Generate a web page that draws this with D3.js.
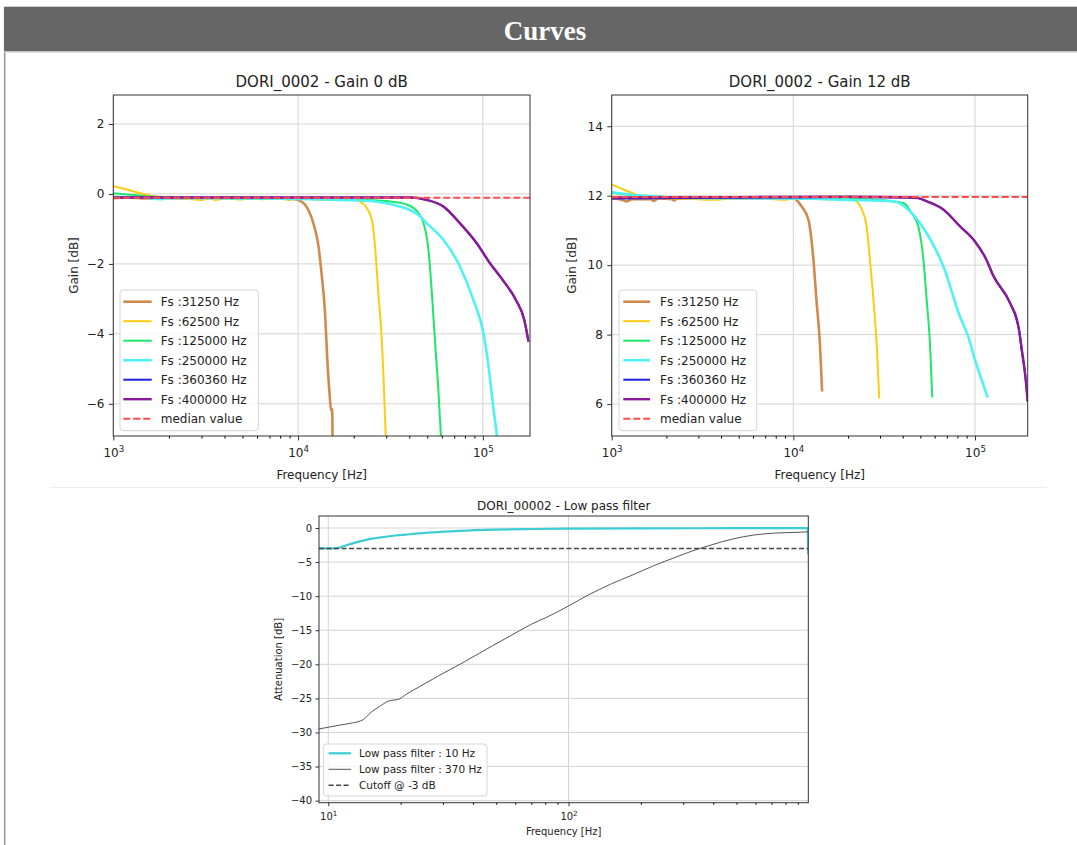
<!DOCTYPE html>
<meta charset="utf-8">
<style>
body { margin: 0; background: #fff; }
text { font-family: "DejaVu Sans", sans-serif; fill: #222; }
</style>
<svg width="1077" height="845" id="page"></svg>
<script src="https://d3js.org/d3.v7.min.js"></script>
<script>

// ---- Gain 0 dB : [frequency Hz, gain dB]
var g0_31250 = [[1000,-0.12],[1200,-0.1],[1500,-0.13],[2000,-0.12],[3000,-0.13],[4000,-0.1],[5000,-0.12],[7000,-0.12],[9000,-0.13],[10000,-0.17],[11100,-0.36],[12100,-0.84],[12900,-1.5],[13400,-2.27],[14000,-3.41],[14400,-4.74],[14800,-5.7],[15100,-6.2],[15300,-6.15],[15400,-7.6]];
var g0_62500 = [[1000,0.22],[1200,0.12],[1400,0.02],[1600,-0.05],[2000,-0.1],[2500,-0.14],[3000,-0.17],[3300,-0.12],[3600,-0.17],[4000,-0.13],[5000,-0.16],[5500,-0.12],[6500,-0.15],[8000,-0.13],[9000,-0.17],[10000,-0.13],[12000,-0.15],[14000,-0.17],[17000,-0.15],[20000,-0.16],[21700,-0.22],[23600,-0.41],[25100,-0.74],[26100,-1.5],[27200,-2.84],[28100,-3.79],[29000,-5.22],[29800,-6.91],[30400,-7.6]];
var g0_125000 = [[1000,0.02],[1300,-0.03],[1700,-0.08],[2500,-0.1],[4000,-0.12],[10000,-0.14],[20000,-0.16],[30000,-0.2],[38700,-0.3],[44900,-0.55],[47800,-0.84],[50800,-1.6],[53000,-2.84],[55200,-4.27],[57600,-5.7],[59300,-6.91],[60500,-7.6]];
var g0_250000 = [[1000,-0.08],[1400,-0.1],[1800,-0.15],[2000,-0.12],[3000,-0.12],[6000,-0.13],[12000,-0.15],[20000,-0.18],[26700,-0.22],[32800,-0.31],[40400,-0.46],[44900,-0.6],[49800,-0.84],[61200,-1.31],[75300,-2.08],[88900,-3.03],[100800,-3.98],[107400,-4.93],[114300,-6.17],[119100,-6.91],[122000,-7.6]];
var g0_360360 = [[1000,-0.1],[5000,-0.1],[20000,-0.1],[40000,-0.1],[49700,-0.17],[61200,-0.36],[75300,-0.84],[92700,-1.41],[109300,-1.98],[128200,-2.46],[151000,-3.03],[167600,-3.6],[176600,-4.22]];
var g0_400000 = [[1000,-0.1],[3000,-0.1],[10000,-0.1],[30000,-0.1],[40400,-0.1],[49700,-0.17],[61200,-0.36],[75300,-0.84],[92700,-1.41],[109300,-1.98],[128200,-2.46],[151000,-3.03],[167600,-3.6],[176600,-4.22]];
var g0_median = -0.11;

// ---- Gain 12 dB
var g12_31250 = [[1000,11.92],[1150,11.88],[1200,11.84],[1300,11.9],[1650,11.9],[1700,11.85],[1800,11.92],[2150,11.9],[2200,11.86],[2300,11.92],[4000,11.93],[7000,11.93],[10000,11.93],[11100,11.69],[12100,11.31],[12900,10.15],[13400,9.0],[14000,7.75],[14400,6.36]];
var g12_62500 = [[1000,12.32],[1200,12.15],[1430,12.0],[2000,11.93],[3000,11.9],[3500,11.88],[5000,11.93],[7000,11.92],[9000,11.88],[10000,11.92],[15000,11.9],[21400,11.88],[23800,11.6],[25300,11.12],[26400,10.15],[27600,9.0],[28800,7.65],[29700,6.16]];
var g12_125000 = [[1000,12.08],[1500,12.0],[3000,11.94],[10000,11.93],[25000,11.9],[40400,11.79],[44800,11.5],[48700,11.12],[52000,10.15],[54200,9.0],[56500,7.75],[58200,6.19]];
var g12_250000 = [[1000,12.1],[1500,12.0],[3000,11.93],[10000,11.92],[20000,11.88],[35500,11.84],[43900,11.55],[54200,10.92],[67000,9.96],[82600,8.52],[91800,7.94],[100000,7.27],[108900,6.69],[117400,6.19]];
var g12_360360 = [[1000,11.92],[5000,11.94],[20000,11.96],[43900,11.95],[48700,11.93],[54200,11.84],[67000,11.6],[82600,11.12],[100000,10.68],[115700,10.15],[125400,9.72],[156300,8.9],[170000,8.4],[175000,8.1],[180000,7.6],[189400,6.79],[195000,6.07]];
var g12_400000 = [[1000,11.95],[5000,11.96],[20000,11.97],[43900,11.95],[48700,11.93],[54200,11.84],[67000,11.6],[82600,11.12],[100000,10.68],[115700,10.15],[125400,9.72],[156300,8.9],[173600,8.23],[181200,7.56],[189400,6.79],[195000,6.07]];
var g12_median = 11.96;

// ---- Low pass filter : [frequency Hz, attenuation dB]
var lp_10 = [[9.15,-3.0],[10.7,-2.98],[12,-2.5],[13.4,-2.0],[15,-1.6],[16.3,-1.4],[19,-1.1],[21.7,-0.92],[27,-0.65],[35.1,-0.43],[50,-0.25],[70,-0.15],[100,-0.1],[200,-0.05],[500,-0.03],[988,-0.02],[995,-3.9]];
var lp_370 = [[9.08,-29.5],[11.4,-28.86],[12.6,-28.6],[14,-28.1],[15,-27.1],[16.3,-26.2],[17.8,-25.4],[19.7,-25.1],[21.1,-24.4],[24.2,-23.2],[28.7,-21.7],[35.3,-20.0],[40.5,-18.8],[48.1,-17.3],[57.1,-15.85],[70.2,-14.1],[80.5,-13.15],[100,-11.44],[121.7,-9.77],[149.6,-8.25],[183.8,-6.92],[225.7,-5.55],[277.6,-4.32],[329.4,-3.34],[391.5,-2.5],[481,-1.62],[591,-1.03],[726,-0.74],[893,-0.64],[995,-0.56]];
var lp_cutoff = -3;

var fsLabels = ["Fs :31250 Hz", "Fs :62500 Hz", "Fs :125000 Hz", "Fs :250000 Hz", "Fs :360360 Hz", "Fs :400000 Hz", "median value"];
var fsColors = ["#d08a4e", "#ffcc11", "#1ee66a", "#4ff2f2", "#2020dd", "#8b1a99", "#ff4d4d"];
var fsWidths = [2.6, 2, 2, 2.6, 2, 2.4, 2];

var svg = d3.select("#page");

// page frame
svg.append("line").attr("x1", 4.7).attr("x2", 4.7).attr("y1", 7).attr("y2", 845).attr("stroke", "#999").attr("stroke-width", 1.6);
svg.append("rect").attr("x", 4).attr("y", 6).attr("width", 1073).attr("height", 1).attr("fill", "#cfcfcf");
svg.append("rect").attr("x", 4).attr("y", 7).attr("width", 1073).attr("height", 44).attr("fill", "#666");
svg.append("rect").attr("x", 4).attr("y", 51).attr("width", 1073).attr("height", 1.5).attr("fill", "#c4c4c4");
svg.append("text").attr("x", 545).attr("y", 40).attr("text-anchor", "middle")
  .style("font-family", "'Liberation Serif', 'DejaVu Serif', serif").style("font-weight", "bold")
  .style("font-size", "27px").style("fill", "#fff").text("Curves");
svg.append("line").attr("x1", 50).attr("x2", 1047).attr("y1", 487.5).attr("y2", 487.5).attr("stroke", "#eee");

function minorTicks(dom) {
  var out = [];
  for (var e = Math.floor(Math.log10(dom[0])); e <= Math.ceil(Math.log10(dom[1])); e++) {
    for (var m = 2; m < 10; m++) {
      var v = m * Math.pow(10, e);
      if (v >= dom[0] && v <= dom[1]) out.push(v);
    }
  }
  return out;
}

function chart(c) {
  var x = d3.scaleLog().domain(c.xDomain).range([c.left, c.right]);
  var y = d3.scaleLinear().domain(c.yDomain).range([c.bottom, c.top]);
  var g = svg.append("g");
  var clipId = "clip-" + c.id;
  g.append("clipPath").attr("id", clipId).append("rect")
    .attr("x", c.left).attr("y", c.top).attr("width", c.right - c.left).attr("height", c.bottom - c.top);

  // grid
  g.append("g").selectAll("line").data(c.xMajor).join("line")
    .attr("x1", d => x(d)).attr("x2", d => x(d)).attr("y1", c.top).attr("y2", c.bottom)
    .attr("stroke", "#d4d4d4").attr("stroke-width", 1);
  g.append("g").selectAll("line").data(c.yTicks).join("line")
    .attr("x1", c.left).attr("x2", c.right).attr("y1", d => y(d)).attr("y2", d => y(d))
    .attr("stroke", "#d4d4d4").attr("stroke-width", 1);

  // curves
  var line = d3.line().x(d => x(d[0])).y(d => y(d[1])).curve(d3.curveMonotoneX);
  var plot = g.append("g").attr("clip-path", "url(#" + clipId + ")");
  c.series.forEach(function(s) {
    var data = s.data || [[c.xDomain[0], s.level], [c.xDomain[1], s.level]];
    plot.append("path").datum(data).attr("d", line)
      .attr("fill", "none").attr("stroke", s.color).attr("stroke-width", s.width)
      .attr("stroke-dasharray", s.dash || null).attr("stroke-linejoin", "round");
  });

  // frame
  g.append("rect").attr("x", c.left).attr("y", c.top).attr("width", c.right - c.left).attr("height", c.bottom - c.top)
    .attr("fill", "none").attr("stroke", "#333").attr("stroke-width", 1);

  // axes
  var xa = g.append("g").attr("transform", "translate(0," + c.bottom + ")")
    .call(d3.axisBottom(x).tickValues(c.xMajor).tickSize(c.tick).tickPadding(c.pad).tickSizeOuter(0));
  g.append("g").attr("transform", "translate(0," + c.bottom + ")")
    .call(d3.axisBottom(x).tickValues(minorTicks(c.xDomain)).tickSize(c.tick * 0.57).tickFormat("").tickSizeOuter(0))
    .select(".domain").remove();
  xa.select(".domain").remove();
  xa.selectAll(".tick text").each(function(d) {
    var t = d3.select(this);
    t.text("10").attr("dy", null).attr("y", c.tick + c.pad + c.fs * 1.05);
    t.append("tspan").attr("dy", -c.fs * 0.45).attr("font-size", c.fs * 0.72).text(Math.round(Math.log10(d)));
  });
  var ya = g.append("g").attr("transform", "translate(" + c.left + ",0)")
    .call(d3.axisLeft(y).tickValues(c.yTicks).tickSize(c.tick).tickPadding(c.pad).tickSizeOuter(0).tickFormat(d3.format("d")));
  ya.select(".domain").remove();
  [xa, ya].forEach(function(a) {
    a.attr("font-family", null).attr("font-size", c.fs).attr("color", "#333");
    a.selectAll("text").style("fill", "#222");
  });

  // labels
  g.append("text").attr("x", (c.left + c.right) / 2).attr("y", c.top - c.titleGap).attr("text-anchor", "middle")
    .style("font-size", c.titleFs + "px").text(c.title);
  g.append("text").attr("x", (c.left + c.right) / 2).attr("y", c.bottom + c.xLabelGap).attr("text-anchor", "middle")
    .style("font-size", c.fs + "px").text("Frequency [Hz]");
  g.append("text").attr("transform", "translate(" + (c.left - c.yLabelGap) + "," + ((c.top + c.bottom) / 2) + ") rotate(-90)")
    .attr("text-anchor", "middle").style("font-size", c.fs + "px").text(c.yLabel);

  // legend
  var L = c.legend;
  var lg = g.append("g");
  lg.append("rect").attr("x", L.x).attr("y", L.y).attr("width", L.w).attr("height", L.h).attr("rx", 3)
    .attr("fill", "#fff").attr("fill-opacity", 0.8).attr("stroke", "#d6d6d6");
  c.series.forEach(function(s, i) {
    var ry = L.row0 + i * L.step;
    lg.append("line").attr("x1", L.line0).attr("x2", L.line1).attr("y1", ry).attr("y2", ry)
      .attr("stroke", s.color).attr("stroke-width", s.width).attr("stroke-dasharray", s.dash || null);
    lg.append("text").attr("x", L.text).attr("y", ry + c.legendFs * 0.36).style("font-size", c.legendFs + "px").text(s.label);
  });
}

function fsSeries(sets, median, dash) {
  return sets.map(function(d, i) {
    return { label: fsLabels[i], color: fsColors[i], width: fsWidths[i], data: d };
  }).concat([{ label: fsLabels[6], color: fsColors[6], width: fsWidths[6], level: median, dash: dash }]);
}

var topStyle = { tick: 4.4, pad: 4.4, fs: 12, titleFs: 15, legendFs: 12, titleGap: 8, xLabelGap: 43, yLabelGap: 35.5 };

chart(Object.assign({}, topStyle, {
  id: "g0", title: "DORI_0002 - Gain 0 dB", yLabel: "Gain [dB]",
  left: 113.3, right: 530, top: 95, bottom: 436,
  xDomain: [1000, 180000], yDomain: [-6.92, 2.83],
  xMajor: [1e3, 1e4, 1e5], yTicks: [-6, -4, -2, 0, 2],
  series: fsSeries([g0_31250, g0_62500, g0_125000, g0_250000, g0_360360, g0_400000], g0_median, "7,3"),
  legend: { x: 120, y: 290, w: 138.3, h: 140.7, row0: 301.7, step: 19.5, line0: 123.3, line1: 151.7, text: 160.7 }
}));

chart(Object.assign({}, topStyle, {
  id: "g12", title: "DORI_0002 - Gain 12 dB", yLabel: "Gain [dB]",
  left: 611.7, right: 1027.7, top: 95, bottom: 436,
  xDomain: [1000, 195000], yDomain: [5.08, 14.9],
  xMajor: [1e3, 1e4, 1e5], yTicks: [6, 8, 10, 12, 14],
  series: fsSeries([g12_31250, g12_62500, g12_125000, g12_250000, g12_360360, g12_400000], g12_median, "7,3"),
  legend: { x: 619, y: 290, w: 137.7, h: 140.7, row0: 301.7, step: 19.5, line0: 623.3, line1: 650, text: 660 }
}));

chart({
  id: "lp", title: "DORI_00002 - Low pass filter", yLabel: "Attenuation [dB]",
  tick: 3.5, pad: 3.5, fs: 10, titleFs: 12, legendFs: 10.5, titleGap: 6, xLabelGap: 32, yLabelGap: 37,
  left: 319, right: 808.3, top: 516, bottom: 802.7,
  xDomain: [9.15, 995], yDomain: [-40.3, 1.76],
  xMajor: [10, 100], yTicks: [-40, -35, -30, -25, -20, -15, -10, -5, 0],
  series: [
    { label: "Low pass filter : 10 Hz", color: "#3cccd4", width: 2.2, data: lp_10 },
    { label: "Low pass filter : 370 Hz", color: "#555", width: 1, data: lp_370 },
    { label: "Cutoff @ -3 dB", color: "#444", width: 1.5, level: lp_cutoff, dash: "5,2.5" }
  ],
  legend: { x: 323.6, y: 744, w: 163.4, h: 52, row0: 753.3, step: 16, line0: 328.6, line1: 351, text: 359 }
});

</script>
